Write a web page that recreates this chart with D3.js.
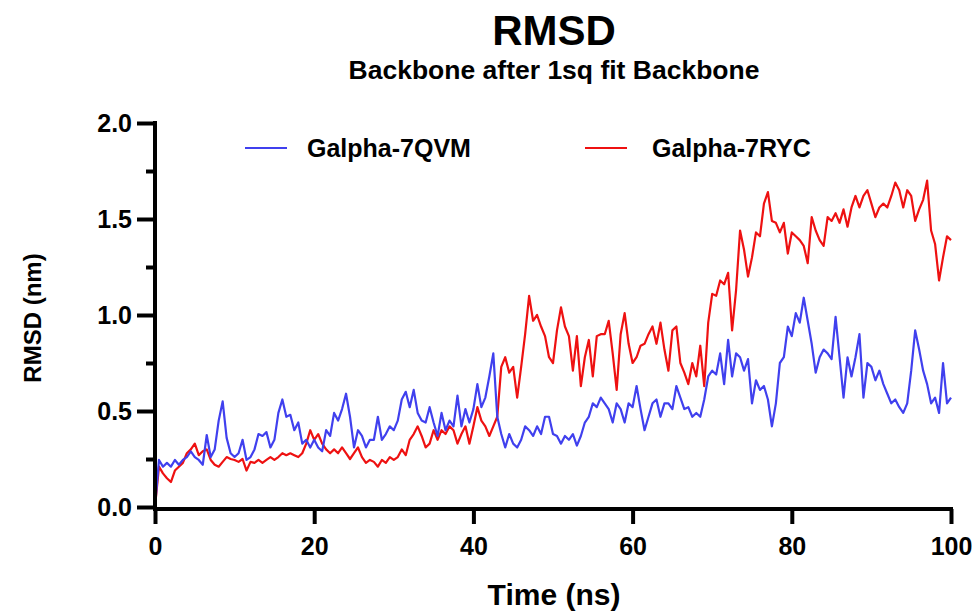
<!DOCTYPE html>
<html><head><meta charset="utf-8">
<script src="https://cdn.jsdelivr.net/npm/d3@7"></script>
<style>body{margin:0;background:#fff}svg{display:block}text{font-family:"Liberation Sans",Arial,sans-serif;font-weight:bold;fill:#000}</style>
</head><body>
<svg id="chart" width="980" height="613"></svg>
<script>
const title = "RMSD";
const subtitle = "Backbone after 1sq fit Backbone";
const xLabel = "Time (ns)";
const yLabel = "RMSD (nm)";
const seriesNames = ["Galpha-7QVM", "Galpha-7RYC"];
const seriesColors = ["#4040ee", "#ee1111"];
const xTicks = [0, 20, 40, 60, 80, 100];
const yTicks = [0, 0.5, 1.0, 1.5, 2.0];
const yMinorTicks = [0.25, 0.75, 1.25, 1.75];

const time = [0,0.5,1,1.5,2,2.5,3,3.5,4,4.5,5,5.5,6,6.5,7,7.5,8,8.5,9,9.5,
10,10.5,11,11.5,12,12.5,13,13.5,14,14.5,15,15.5,16,16.5,17,17.5,18,18.5,19,19.5,
20,20.5,21,21.5,22,22.5,23,23.5,24,24.5,25,25.5,26,26.5,27,27.5,28,28.5,29,29.5,
30,30.5,31,31.5,32,32.5,33,33.5,34,34.5,35,35.5,36,36.5,37,37.5,38,38.5,39,39.5,
40,40.5,41,41.5,42,42.5,43,43.5,44,44.5,45,45.5,46,46.5,47,47.5,48,48.5,49,49.5,
50,50.5,51,51.5,52,52.5,53,53.5,54,54.5,55,55.5,56,56.5,57,57.5,58,58.5,59,59.5,
60,60.5,61,61.5,62,62.5,63,63.5,64,64.5,65,65.5,66,66.5,67,67.5,68,68.5,69,69.5,
70,70.5,71,71.5,72,72.5,73,73.5,74,74.5,75,75.5,76,76.5,77,77.5,78,78.5,79,79.5,
80,80.5,81,81.5,82,82.5,83,83.5,84,84.5,85,85.5,86,86.5,87,87.5,88,88.5,89,89.5,
90,90.5,91,91.5,92,92.5,93,93.5,94,94.5,95,95.5,96,96.5,97,97.5,98,98.5,99,99.5,100];

const rmsd7QVM = [0.00,0.245,0.21,0.23,0.21,0.245,0.22,0.245,0.26,0.29,0.26,0.245,0.22,0.375,0.26,0.30,0.45,0.55,0.36,0.28,
0.26,0.28,0.35,0.245,0.26,0.30,0.38,0.37,0.39,0.31,0.35,0.49,0.56,0.47,0.48,0.40,0.44,0.33,0.35,0.31,
0.35,0.31,0.29,0.40,0.37,0.49,0.45,0.51,0.59,0.47,0.31,0.40,0.37,0.31,0.35,0.35,0.47,0.35,0.38,0.42,
0.40,0.45,0.56,0.60,0.52,0.61,0.49,0.45,0.44,0.52,0.44,0.37,0.49,0.40,0.45,0.42,0.58,0.42,0.51,0.44,
0.51,0.64,0.52,0.57,0.68,0.80,0.47,0.38,0.31,0.38,0.33,0.31,0.35,0.42,0.40,0.37,0.42,0.38,0.47,0.47,
0.38,0.37,0.33,0.37,0.35,0.38,0.32,0.37,0.44,0.47,0.54,0.52,0.57,0.54,0.51,0.44,0.54,0.51,0.44,0.54,
0.52,0.63,0.51,0.40,0.47,0.54,0.56,0.47,0.54,0.54,0.51,0.63,0.57,0.51,0.52,0.47,0.49,0.47,0.56,0.68,
0.71,0.69,0.80,0.64,0.87,0.68,0.80,0.78,0.71,0.77,0.54,0.66,0.61,0.63,0.56,0.42,0.54,0.75,0.78,0.94,
0.89,1.01,0.96,1.09,0.97,0.85,0.70,0.78,0.82,0.80,0.77,0.99,0.78,0.57,0.78,0.68,0.78,0.90,0.57,0.75,
0.73,0.66,0.71,0.64,0.59,0.54,0.56,0.52,0.49,0.54,0.71,0.92,0.82,0.71,0.64,0.54,0.57,0.49,0.75,0.54,0.57];

const rmsd7RYC = [0.00,0.21,0.175,0.15,0.13,0.19,0.21,0.23,0.28,0.30,0.33,0.27,0.29,0.30,0.245,0.22,0.21,0.235,0.26,0.25,
0.245,0.235,0.25,0.19,0.235,0.23,0.245,0.23,0.245,0.26,0.245,0.26,0.28,0.27,0.28,0.27,0.26,0.28,0.33,0.40,
0.35,0.38,0.33,0.30,0.28,0.30,0.28,0.31,0.28,0.25,0.28,0.31,0.26,0.23,0.245,0.235,0.21,0.245,0.23,0.26,
0.245,0.26,0.30,0.27,0.35,0.38,0.42,0.37,0.31,0.33,0.40,0.35,0.40,0.38,0.42,0.40,0.33,0.38,0.42,0.33,
0.42,0.52,0.45,0.42,0.37,0.42,0.47,0.73,0.78,0.70,0.73,0.57,0.73,0.90,1.10,0.97,1.00,0.94,0.89,0.78,
0.75,0.92,1.04,0.94,0.89,0.71,0.89,0.63,0.78,0.87,0.68,0.89,0.90,0.90,0.97,0.80,0.61,0.90,1.01,0.85,
0.75,0.78,0.84,0.85,0.90,0.94,0.85,0.96,0.82,0.71,0.92,0.94,0.75,0.70,0.64,0.75,0.68,0.84,0.63,0.96,
1.11,1.10,1.18,1.16,1.22,0.92,1.13,1.44,1.34,1.20,1.30,1.43,1.41,1.58,1.64,1.49,1.48,1.43,1.48,1.32,
1.43,1.41,1.39,1.36,1.27,1.51,1.44,1.39,1.36,1.51,1.49,1.53,1.48,1.55,1.46,1.56,1.62,1.56,1.62,1.65,
1.58,1.51,1.56,1.58,1.56,1.62,1.69,1.65,1.56,1.65,1.62,1.49,1.55,1.60,1.70,1.44,1.37,1.18,1.30,1.41,1.39];

const svg = d3.select("#chart");
const x = d3.scaleLinear().domain([0, 100]).range([155, 951]);
const y = d3.scaleLinear().domain([0, 2]).range([507, 123]);

// title
svg.append("text").attr("x", 554).attr("y", 45).attr("text-anchor", "middle")
  .style("font-size", "42px").text(title);
svg.append("text").attr("x", 554).attr("y", 79).attr("text-anchor", "middle")
  .style("font-size", "26.5px").text(subtitle);

// lines
const line = d3.line().x((d, i) => x(time[i])).y(d => y(d));
const series = [rmsd7RYC, rmsd7QVM];
const colors = [seriesColors[1], seriesColors[0]];
series.forEach((s, k) => {
  svg.append("path").datum(s).attr("d", line).attr("fill", "none")
    .attr("stroke", colors[k]).attr("stroke-width", 2.2).attr("stroke-linejoin", "round");
});

// axes
const yAxis = d3.axisLeft(y).tickValues(yTicks).tickSize(18).tickPadding(5).tickFormat(d3.format(".1f"));
const yAxisMinor = d3.axisLeft(y).tickValues(yMinorTicks).tickSize(9).tickFormat("");
const xAxis = d3.axisBottom(x).tickValues(xTicks).tickSize(15).tickPadding(13).tickFormat(d3.format("d"));

const gy = svg.append("g").attr("transform", "translate(155,0)").call(yAxis);
const gym = svg.append("g").attr("transform", "translate(155,0)").call(yAxisMinor);
const gx = svg.append("g").attr("transform", "translate(0,509)").call(xAxis);
[gy, gym, gx].forEach(g => {
  g.select(".domain").remove();
  g.selectAll(".tick line").attr("stroke", "#000").attr("stroke-width", 4);
  g.selectAll(".tick text").style("font-size", "25px").style("font-family", "'Liberation Sans',Arial,sans-serif").style("font-weight", "bold");
});
// axis lines
svg.append("line").attr("x1", x(0)).attr("x2", x(0)).attr("y1", y(2) - 2).attr("y2", 511)
  .attr("stroke", "#000").attr("stroke-width", 4);
svg.append("line").attr("x1", x(0) - 2).attr("x2", x(100) + 2).attr("y1", 509).attr("y2", 509)
  .attr("stroke", "#000").attr("stroke-width", 4);

// axis titles
svg.append("text").attr("x", 554).attr("y", 605).attr("text-anchor", "middle")
  .style("font-size", "30px").text(xLabel);
svg.append("text").attr("transform", "translate(41,318) rotate(-90)").attr("text-anchor", "middle")
  .style("font-size", "24px").text(yLabel);

// legend
const legendLineX = [245, 585];
const legendTextX = [307, 652];
seriesNames.forEach((n, i) => {
  svg.append("line").attr("x1", legendLineX[i]).attr("x2", legendLineX[i] + 42).attr("y1", 148).attr("y2", 148)
    .attr("stroke", seriesColors[i]).attr("stroke-width", 2);
  svg.append("text").attr("x", legendTextX[i]).attr("y", 157).style("font-size", "25px").text(n);
});
</script>
</body></html>
